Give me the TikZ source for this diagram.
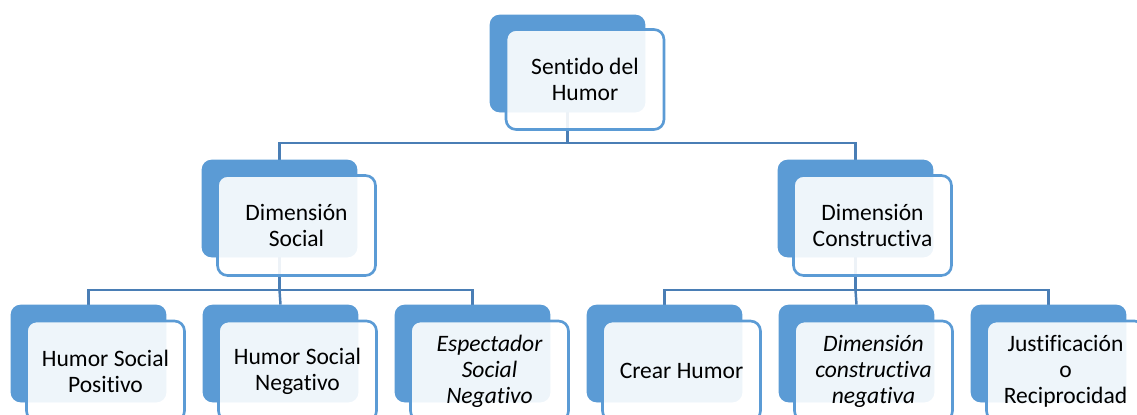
\documentclass[tikz,border=0pt]{standalone}
\usepackage{fontspec}
\setmainfont{Carlito}[Ligatures={NoCommon}]
\definecolor{boxblue}{HTML}{5B9BD5}
\definecolor{linkblue}{HTML}{4A7EB5}
\begin{document}
\begin{tikzpicture}[x=0.02cm,y=-0.02cm,
  backbox/.style={fill=boxblue, draw=none, rounded corners=0.2cm,
    minimum width=3.1cm, minimum height=1.94cm, inner sep=0pt},
  frontbox/.style={fill=white, fill opacity=0.9, text opacity=1,
    draw=boxblue, line width=1.5pt, rounded corners=0.2cm,
    minimum width=3.16cm, minimum height=2cm, inner sep=0pt, align=center,
    font=\fontsize{13.4}{14.8}\selectfont},
  link/.style={draw=linkblue, line width=1.4pt}]
\useasboundingbox (0,0) rectangle (1137,414);
\clip (0,0) rectangle (1137,414);
% bus levels
\coordinate (busA) at (0,143);
\coordinate (busL) at (0,290);
\coordinate (busR) at (0,290);
% back boxes (anchors for connectors)
\node[backbox] (top-b) at (567.5,63.5) {};
\node[backbox] (soc-b) at (279.5,208.5) {};
\node[backbox] (con-b) at (855.5,208.5) {};
\node[backbox] (hsp-b) at (88.5,353.5) {};
\node[backbox] (hsn-b) at (280.5,353.5) {};
\node[backbox] (esn-b) at (472.5,353.5) {};
\node[backbox] (cre-b) at (664.5,353.5) {};
\node[backbox] (dcn-b) at (856.5,353.5) {};
\node[backbox] (jus-b) at (1048.5,353.5) {};
% connectors
\path[link] (top-b.center) -- (top-b.center |- busA) -| (soc-b.north);
\path[link] (top-b.center |- busA) -| (con-b.north);
\path[link] (soc-b.center) -- (soc-b.center |- busL) -| (hsp-b.north);
\path[link] (soc-b.center |- busL) -- (hsn-b.north);
\path[link] (soc-b.center |- busL) -| (esn-b.north);
\path[link] (con-b.center) -- (con-b.center |- busR) -| (cre-b.north);
\path[link] (con-b.center |- busR) -- (dcn-b.north);
\path[link] (con-b.center |- busR) -| (jus-b.north);
% redraw back boxes over connectors
\foreach \n in {top,soc,con,hsp,hsn,esn,cre,dcn,jus}{
  \fill[boxblue, rounded corners=0.2cm] (\n-b.south west) rectangle (\n-b.north east);
}
% front boxes
\node[frontbox] (top) at (585,79.5) {Sentido del\\Humor};
\node[frontbox] (soc) at (296.5,225.5) {Dimensión\\Social};
\node[frontbox] (con) at (872.5,225.5) {Dimensión\\Constructiva};
\node[frontbox] (hsp) at (105.5,371) {Humor Social\\Positivo};
\node[frontbox] (hsn) at (297.5,371) {Humor Social\\Negativo};
\node[frontbox] (esn) at (489.5,371) {\itshape Espectador\\\itshape Social\\\itshape Negativo};
\node[frontbox] (cre) at (681.5,371) {Crear Humor};
\node[frontbox] (dcn) at (873.5,371) {\itshape Dimensión\\\itshape constructiva\\\itshape negativa};
\node[frontbox] (jus) at (1065.5,371) {Justificación\\o\\Reciprocidad};
\end{tikzpicture}
\end{document}
